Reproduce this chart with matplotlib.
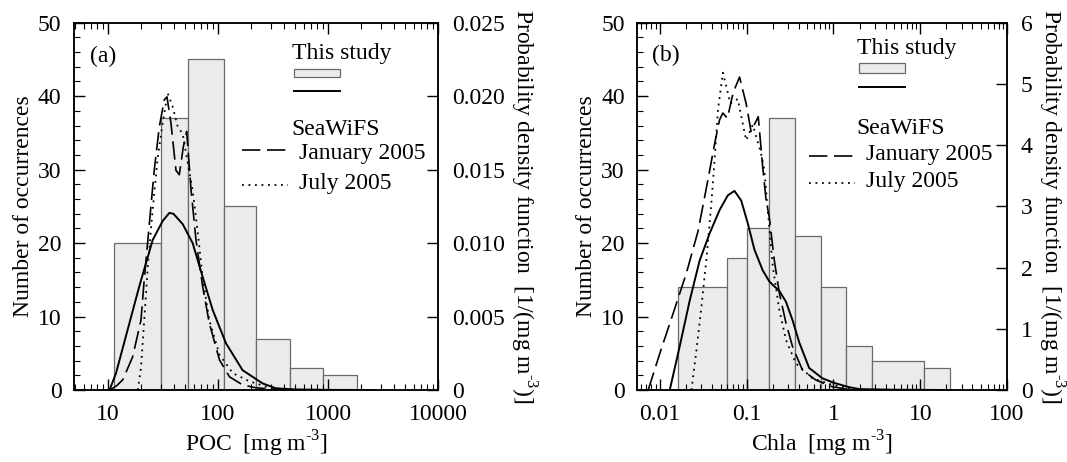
import matplotlib
matplotlib.use('Agg')
import matplotlib.pyplot as plt
import numpy as np
from matplotlib.patches import Rectangle
from matplotlib.ticker import MultipleLocator, LogLocator, FuncFormatter, NullFormatter

plt.rcParams['font.family'] = ['Liberation Serif', 'DejaVu Serif']
plt.rcParams['mathtext.fontset'] = 'custom'
plt.rcParams['mathtext.rm'] = 'Liberation Serif'
plt.rcParams['font.size'] = 17

# ---- (a) POC ----
poc_edges = [11.2, 30, 53, 114, 221, 453, 903, 1820]
poc_counts = [20, 37, 45, 25, 7, 3, 2]

poc_study_x = [10.3, 11.8, 14.5, 19.2, 25.4, 31.3, 36.0, 39.2, 47.6, 58.7, 72.4,
               89.3, 118, 167, 254, 336, 500, 1000, 2500]
poc_study_pdf = [0, 0.00115, 0.00365, 0.00705, 0.0102, 0.0115, 0.01205, 0.0120,
                 0.0113, 0.0100, 0.0077, 0.00545, 0.00318, 0.00135, 0.00045,
                 0.000115, 0.00004, 0.00001, 0]

poc_jan_x = [10.3, 12, 13.6, 16.7, 19.9, 21.3, 23.5, 26.3, 29.2, 32.4, 34.3, 37.3,
             41.4, 44.4, 48.3, 51.8, 56.8, 63, 72.4, 83.2, 103, 127, 167, 221, 400]
poc_jan_pdf = [0, 0.0003, 0.0007, 0.00225, 0.00475, 0.0075, 0.011, 0.015, 0.0179,
               0.01975, 0.01995, 0.01815, 0.01495, 0.01465, 0.01655, 0.0176,
               0.0136, 0.0102, 0.00705, 0.00455, 0.00205, 0.0009, 0.00035,
               0.00015, 0]

poc_jul_x = [18.6, 19.9, 21.3, 23.0, 25.4, 28.2, 31.3, 34.8, 38.6, 43, 47.6, 53,
             58.7, 65.3, 72.4, 83.2, 103, 136, 192, 292, 500]
poc_jul_pdf = [0, 0.0015, 0.00475, 0.0085, 0.01225, 0.01575, 0.01815, 0.0202,
               0.0193, 0.0179, 0.01745, 0.01545, 0.0136, 0.01075, 0.00765,
               0.00475, 0.0024, 0.00115, 0.0006, 0.00015, 0]

# ---- (b) Chla ----
chl_edges = [0.0162, 0.0592, 0.100, 0.179, 0.356, 0.714, 1.41, 2.79, 11.1, 21.8]
chl_counts = [14, 18, 22, 37, 21, 14, 6, 4, 3]

chl_study_x = [0.013, 0.0169, 0.0221, 0.0287, 0.0374, 0.0488, 0.0607, 0.0724,
               0.0865, 0.103, 0.123, 0.153, 0.182, 0.2, 0.238, 0.284, 0.338,
               0.403, 0.525, 0.746, 1.0, 1.5, 2.0, 5.0, 20]
chl_study_pdf = [0, 0.708, 1.464, 2.112, 2.556, 2.94, 3.18, 3.252, 3.096, 2.724,
                 2.292, 1.956, 1.776, 1.716, 1.62, 1.44, 1.14, 0.78, 0.36, 0.192,
                 0.12, 0.048, 0.0144, 0.0048, 0]

chl_jan_x = [0.00734, 0.01, 0.0142, 0.0202, 0.0275, 0.0358, 0.0427, 0.0488,
             0.0532, 0.0600, 0.0700, 0.0828, 0.0986, 0.1124, 0.136, 0.153,
             0.1673, 0.182, 0.208, 0.238, 0.284, 0.338, 0.44, 0.627, 0.97, 1.6]
chl_jan_pdf = [0, 0.6, 1.248, 1.908, 2.592, 3.432, 4.02, 4.416, 4.524, 4.44, 4.86,
               5.112, 4.68, 4.224, 4.464, 3.648, 3.108, 2.832, 2.124, 1.584,
               1.092, 0.708, 0.324, 0.163, 0.054, 0]

chl_jul_x = [0.0231, 0.0264, 0.0301, 0.0343, 0.0392, 0.0427, 0.0467, 0.0532,
             0.0592, 0.0647, 0.079, 0.0986, 0.1175, 0.1466, 0.160, 0.175, 0.2,
             0.238, 0.284, 0.37, 0.573, 0.97, 1.5, 2.5]
chl_jul_pdf = [0, 0.648, 1.356, 2.124, 3.048, 3.756, 4.572, 5.184, 4.92, 4.68,
               4.752, 4.08, 4.332, 3.864, 3.588, 2.94, 2.016, 1.308, 0.816,
               0.432, 0.192, 0.084, 0.03, 0]

DASH = (0, (11, 4))
DOT = (0, (1, 2.6))
UNIT = '[mg m$^{\\text{-3}}$]'


def DrawPanel(ax, edges, counts, sx, sy, jx, jy, ux, uy, xlim, pdfmax, pdfstep,
              pdffmt, xlabel, tag, leg):
	edges = np.array(edges)
	ax.bar(edges[:-1], counts, width=np.diff(edges), align='edge',
	       facecolor='#ebebeb', edgecolor='#6a6a6a', linewidth=0.9, zorder=1)
	ax.set_xscale('log')
	ax.set_xlim(*xlim)
	ax.set_ylim(0, 50)
	ax.yaxis.set_major_locator(MultipleLocator(10))
	ax.yaxis.set_minor_locator(MultipleLocator(2))
	ax.xaxis.set_minor_locator(LogLocator(base=10, subs=np.arange(2, 10), numticks=20))
	ax.xaxis.set_major_formatter(FuncFormatter(lambda v, p: '%g' % v))
	ax.xaxis.set_minor_formatter(NullFormatter())
	ax.tick_params(which='both', direction='in', top=True, right=False)
	ax.tick_params(which='major', length=8, width=1)
	ax.tick_params(which='minor', length=4, width=0.8)
	ax.tick_params(axis='y', pad=9)
	ax.tick_params(axis='x', pad=10)
	ax.set_ylabel('Number of occurrences', labelpad=3)
	ax.set_xlabel(xlabel, labelpad=3)

	ax2 = ax.twinx()
	ax2.plot(sx, sy, color='black', linewidth=1.4)
	ax2.plot(jx, jy, color='black', linewidth=1.2, linestyle=DASH)
	ax2.plot(ux, uy, color='black', linewidth=1.3, linestyle=DOT)
	ax2.set_ylim(0, pdfmax)
	ax2.yaxis.set_major_locator(MultipleLocator(pdfstep))
	ax2.yaxis.set_major_formatter(FuncFormatter(pdffmt))
	ax2.tick_params(direction='in', length=8, width=1, pad=10)
	ax2.set_ylabel('Probability density function  [1/(mg m$^{\\text{-3}}$)]',
	               rotation=270, labelpad=24)

	for a in (ax, ax2):
		for s in a.spines.values():
			s.set_linewidth(1.1)

	# legend drawn by hand
	tx, ty, px0, px1, py0, py1, ly, sty, dx0, dx1, jly, jty, uly, uty, jtx = leg
	ax.text(tag[1], tag[2], tag[0], transform=ax.transAxes, ha='left', va='center')
	ax.text(tx, ty, 'This study', transform=ax.transAxes, ha='left', va='center')
	ax.add_patch(Rectangle((px0, py0), px1 - px0, py1 - py0, transform=ax.transAxes,
	                       facecolor='#ebebeb', edgecolor='#6a6a6a', linewidth=0.9))
	ax.plot([px0, px1], [ly, ly], transform=ax.transAxes, color='black',
	        linewidth=1.4, clip_on=False)
	ax.text(tx, sty, 'SeaWiFS', transform=ax.transAxes, ha='left', va='center')
	ax.plot([dx0, dx1], [jly, jly], transform=ax.transAxes, color='black',
	        linewidth=1.2, linestyle=DASH)
	ax.text(jtx, jty, 'January 2005', transform=ax.transAxes, ha='left', va='center')
	ax.plot([dx0, dx1 - 0.005], [uly, uly], transform=ax.transAxes, color='black',
	        linewidth=1.3, linestyle=DOT)
	ax.text(jtx, uty, 'July 2005', transform=ax.transAxes, ha='left', va='center')


def main():
	fig = plt.figure(figsize=(10.67, 4.62), dpi=100)
	axA = fig.add_axes([0.0694, 0.1558, 0.3411, 0.7951])
	axB = fig.add_axes([0.5973, 0.1558, 0.3465, 0.7951])

	DrawPanel(axA, poc_edges, poc_counts, poc_study_x, poc_study_pdf,
	          poc_jan_x, poc_jan_pdf, poc_jul_x, poc_jul_pdf,
	          (4.9, 10000), 0.025, 0.005,
	          lambda v, p: '0' if abs(v) < 1e-9 else '%.3f' % v,
	          'POC  ' + UNIT, ('(a)', 0.044, 0.907),
	          (0.598, 0.917, 0.604, 0.731, 0.851, 0.873, 0.814, 0.708,
	           0.461, 0.593, 0.653, 0.645, 0.558, 0.563, 0.619))

	DrawPanel(axB, chl_edges, chl_counts, chl_study_x, chl_study_pdf,
	          chl_jan_x, chl_jan_pdf, chl_jul_x, chl_jul_pdf,
	          (0.0055, 100), 6, 1,
	          lambda v, p: '%d' % round(v),
	          'Chla  ' + UNIT, ('(b)', 0.039, 0.912),
	          (0.593, 0.930, 0.600, 0.725, 0.864, 0.889, 0.826, 0.712,
	           0.465, 0.593, 0.637, 0.640, 0.563, 0.567, 0.619))

	fig.savefig('out.png', dpi=100)


if __name__ == "__main__":
	main()
